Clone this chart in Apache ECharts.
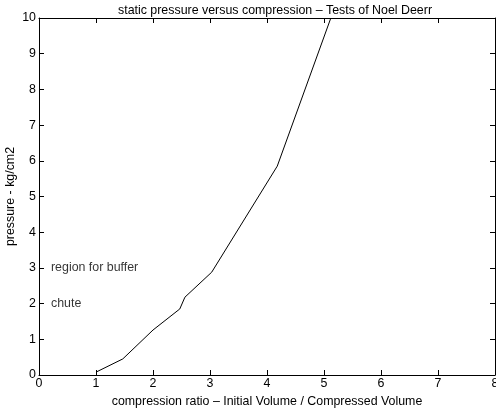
<!DOCTYPE html>
<html><head><meta charset="utf-8">
<script src="https://cdn.jsdelivr.net/npm/echarts@6/dist/echarts.min.js"></script>
<style>html,body{margin:0;padding:0;background:#fff}#c{width:496px;height:413px}</style>
</head><body><div id="c"></div>
<script>
const compression = [1.0, 1.47, 2.0, 2.47, 2.56, 3.03, 4.18, 5.12];
const pressure    = [0.08, 0.45, 1.26, 1.85, 2.18, 2.88, 5.85, 10.0];
const xTicks = [0, 1, 2, 3, 4, 5, 6, 7, 8];
const yTicks = [0, 1, 2, 3, 4, 5, 6, 7, 8, 9, 10];
const noteText = ['region for buffer', 'chute'];
const noteX = [0.21, 0.21];
const noteY = [3, 2];

const font = 'Liberation Sans, Arial, Helvetica, sans-serif';
const fs = 12.4;
const chart = echarts.init(document.getElementById('c'), null, {renderer: 'canvas'});
const axisCommon = {
  axisLine: {show: true, onZero: false, lineStyle: {color: '#000', width: 1}},
  axisTick: {show: true, inside: true, length: 5, lineStyle: {color: '#000'}},
  splitLine: {show: false},
  nameMoveOverlap: false,
  nameTextStyle: {color: '#000', fontFamily: font, fontSize: fs}
};
chart.setOption({
  animation: false,
  backgroundColor: '#fff',
  title: {
    text: 'static pressure versus compression \u2013 Tests of Noel Deerr',
    left: 270, top: 0, textAlign: 'center',
    textStyle: {fontFamily: font, fontSize: fs, fontWeight: 'normal', color: '#000'}
  },
  grid: {left: 39, right: 1, top: 18, bottom: 38, outerBoundsMode: 'none', containLabel: false},
  xAxis: [
    Object.assign({}, axisCommon, {
      type: 'value', min: xTicks[0], max: xTicks[xTicks.length - 1], interval: 1, position: 'bottom',
      name: 'compression ratio \u2013 Initial Volume / Compressed Volume',
      nameLocation: 'middle', nameGap: 21,
      axisLabel: {color: '#000', fontFamily: font, fontSize: fs, margin: 3, showMaxLabel: true}
    }),
    Object.assign({}, axisCommon, {
      type: 'value', min: xTicks[0], max: xTicks[xTicks.length - 1], interval: 1, position: 'top',
      axisLabel: {show: false}
    })
  ],
  yAxis: [
    Object.assign({}, axisCommon, {
      type: 'value', min: yTicks[0], max: yTicks[yTicks.length - 1], interval: 1, position: 'left',
      name: 'pressure - kg/cm2', nameLocation: 'middle', nameGap: 22,
      axisLabel: {color: '#000', fontFamily: font, fontSize: fs, margin: 3}
    }),
    Object.assign({}, axisCommon, {
      type: 'value', min: yTicks[0], max: yTicks[yTicks.length - 1], interval: 1, position: 'right',
      axisLabel: {show: false}
    })
  ],
  series: [
    {
      type: 'line',
      data: compression.map((x, i) => [x, pressure[i]]),
      showSymbol: false, symbol: 'none',
      lineStyle: {color: '#000', width: 1},
      silent: true
    },
    {
      type: 'scatter',
      data: noteText.map((t, i) => ({value: [noteX[i], noteY[i]], name: t})),
      symbolSize: 0,
      label: {
        show: true, position: 'right', distance: 0,
        formatter: p => p.name,
        color: '#000', fontFamily: font, fontSize: fs
      },
      silent: true
    }
  ]
});
</script></body></html>
